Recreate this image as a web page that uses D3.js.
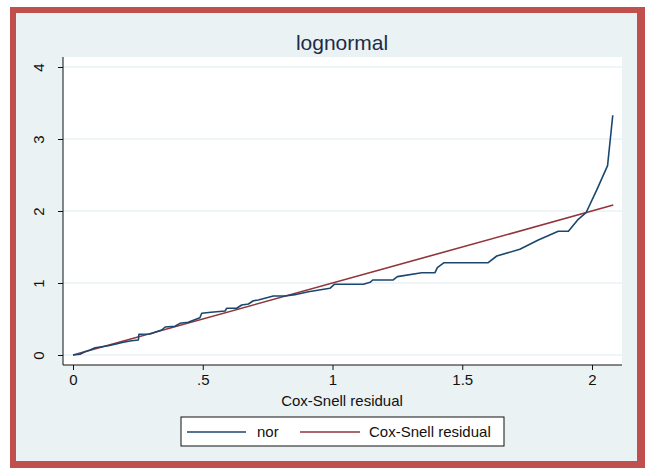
<!DOCTYPE html>
<html>
<head>
<meta charset="utf-8">
<script src="https://cdn.jsdelivr.net/npm/d3@7"></script>
<style>
  body { margin: 0; background: #fff; }
  text { font-family: "Liberation Sans", Arial, sans-serif; }
</style>
</head>
<body>
<div class="canvas"></div>
<script>
// nelson-aalen style cumulative hazard ("nor") vs Cox-Snell residual
const norX = [0, 0.027, 0.046, 0.066, 0.085, 0.111, 0.136, 0.162, 0.194, 0.226, 0.252, 0.254, 0.297, 0.316, 0.342, 0.355, 0.393, 0.412, 0.444, 0.464, 0.489, 0.496, 0.532, 0.586, 0.592, 0.631, 0.650, 0.676, 0.695, 0.714, 0.772, 0.817, 0.855, 0.907, 0.990, 1.007, 1.119, 1.145, 1.155, 1.234, 1.250, 1.344, 1.395, 1.404, 1.430, 1.568, 1.600, 1.633, 1.722, 1.793, 1.870, 1.909, 1.947, 1.977, 2.018, 2.060, 2.080];
const norY = [0, 0.010, 0.046, 0.069, 0.101, 0.115, 0.129, 0.149, 0.176, 0.199, 0.208, 0.288, 0.292, 0.315, 0.347, 0.389, 0.399, 0.440, 0.454, 0.482, 0.518, 0.579, 0.593, 0.611, 0.649, 0.649, 0.694, 0.708, 0.754, 0.764, 0.819, 0.819, 0.838, 0.879, 0.926, 0.982, 0.982, 1.010, 1.042, 1.042, 1.088, 1.143, 1.143, 1.213, 1.282, 1.282, 1.282, 1.375, 1.468, 1.597, 1.718, 1.718, 1.885, 1.976, 2.29, 2.63, 3.33];
// reference line: Cox-Snell residual against itself
const csX = [0, 2.082];
const csY = [0, 2.082];
const xTicks = [0, 0.5, 1, 1.5, 2];
const xTickLabels = ["0", ".5", "1", "1.5", "2"];
const yTicks = [0, 1, 2, 3, 4];
const legendLabels = ["nor", "Cox-Snell residual"];

const W = 647, H = 470;
const svg = d3.select(".canvas").append("svg").attr("width", W).attr("height", H);

// red frame + stata-ish light background
svg.append("rect").attr("x", 10).attr("y", 7).attr("width", 635).attr("height", 461).attr("fill", "#c0504d");
svg.append("rect").attr("x", 16).attr("y", 13).attr("width", 621).attr("height", 448).attr("fill", "#eaf2f3");

const xScale = d3.scaleLinear().domain([0, 2]).range([73, 592]);
const yScale = d3.scaleLinear().domain([0, 4]).range([355, 67]);
const plot = { left: 63, right: 622, top: 57, bottom: 365 };

svg.append("rect")
  .attr("x", plot.left).attr("y", plot.top)
  .attr("width", plot.right - plot.left).attr("height", plot.bottom - plot.top)
  .attr("fill", "#fff");

// gridlines
svg.selectAll(".grid").data(yTicks).enter().append("line")
  .attr("x1", plot.left).attr("x2", plot.right)
  .attr("y1", (d) => yScale(d)).attr("y2", (d) => yScale(d))
  .attr("stroke", "#eaf2f3").attr("stroke-width", 1.5);

// y axis
const yAxis = d3.axisLeft(yScale).tickValues(yTicks).tickSize(5).tickFormat(d3.format("d"));
const gy = svg.append("g").attr("transform", `translate(${plot.left},0)`).call(yAxis);
gy.select(".domain").attr("d", `M0,${plot.top}V${plot.bottom}`).attr("stroke", "#111");
gy.selectAll(".tick line").attr("stroke", "#111");
gy.selectAll(".tick text")
  .attr("transform", "rotate(-90)")
  .attr("x", 0).attr("y", -19).attr("dy", 0)
  .attr("text-anchor", "middle")
  .attr("font-size", 15).attr("fill", "#111")
  .attr("font-family", "Liberation Sans, Arial, sans-serif");

// x axis
const xAxis = d3.axisBottom(xScale).tickValues(xTicks).tickSize(5)
  .tickFormat((d, i) => xTickLabels[i]);
const gx = svg.append("g").attr("transform", `translate(0,${plot.bottom})`).call(xAxis);
gx.select(".domain").attr("d", `M${plot.left},0H${plot.right}`).attr("stroke", "#111");
gx.selectAll(".tick line").attr("stroke", "#111");
gx.selectAll(".tick text")
  .attr("y", 9).attr("dy", "0.71em")
  .attr("font-size", 15).attr("fill", "#111")
  .attr("font-family", "Liberation Sans, Arial, sans-serif");

svg.append("text").attr("x", 342).attr("y", 406).attr("text-anchor", "middle")
  .attr("font-size", 15).attr("fill", "#111").text("Cox-Snell residual");

svg.append("text").attr("x", 342).attr("y", 50).attr("text-anchor", "middle")
  .attr("font-size", 21).attr("fill", "#1c2b4a").text("lognormal");

// lines
const line = d3.line().x((d) => xScale(d[0])).y((d) => yScale(d[1]));
const norData = norX.map((x, i) => [x, norY[i]]);
const csData = csX.map((x, i) => [x, csY[i]]);

svg.append("path").datum(csData).attr("d", line)
  .attr("fill", "none").attr("stroke", "#90353b").attr("stroke-width", 1.6);
svg.append("path").datum(norData).attr("d", line)
  .attr("fill", "none").attr("stroke", "#1a476f").attr("stroke-width", 1.6)
  .attr("stroke-linejoin", "round");

// legend
const leg = svg.append("g");
leg.append("rect").attr("x", 181).attr("y", 417).attr("width", 323).attr("height", 29)
  .attr("fill", "#fff").attr("stroke", "#111").attr("stroke-width", 1);
const legItems = [
  { x1: 187, x2: 246, tx: 257, color: "#1a476f" },
  { x1: 300, x2: 360, tx: 369, color: "#90353b" }
];
legItems.forEach((d, i) => {
  leg.append("line").attr("x1", d.x1).attr("x2", d.x2).attr("y1", 432).attr("y2", 432)
    .attr("stroke", d.color).attr("stroke-width", 1.5);
  leg.append("text").attr("x", d.tx).attr("y", 437).attr("font-size", 15)
    .attr("fill", "#111").text(legendLabels[i]);
});
</script>
</body>
</html>
